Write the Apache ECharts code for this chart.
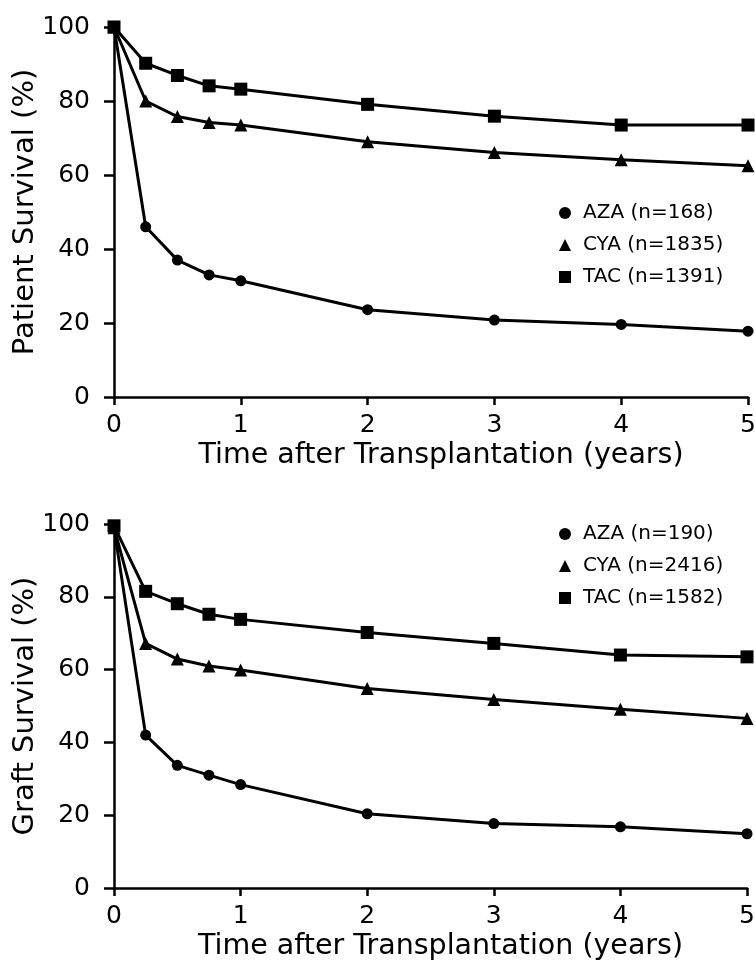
<!DOCTYPE html>
<html>
<head>
<meta charset="utf-8">
<script src="https://cdn.jsdelivr.net/npm/echarts@6/dist/echarts.min.js"></script>
<style>
  html, body { margin: 0; padding: 0; background: #fff; }
  #main { width: 755px; height: 970px; }
</style>
</head>
<body>
<div id="main"></div>
<script>
// time points (years)
var years = [0, 0.25, 0.5, 0.75, 1, 2, 3, 4, 5];

// patient survival (%)
var patientAza = [100, 46, 37, 33, 31.4, 23.6, 20.8, 19.6, 17.8];
var patientCya = [100, 80, 75.8, 74.2, 73.5, 69, 66.1, 64.1, 62.5];
var patientTac = [100, 90.2, 86.9, 84.1, 83.2, 79.1, 75.9, 73.5, 73.5];

// graft survival (%)
var graftAza = [99, 42, 33.7, 31, 28.4, 20.4, 17.7, 16.8, 14.9];
var graftCya = [99, 67.2, 62.9, 61, 59.9, 54.8, 51.8, 49.1, 46.6];
var graftTac = [99.5, 81.5, 78.1, 75.2, 73.8, 70.2, 67.2, 64, 63.5];

var patientNames = ['AZA (n=168)', 'CYA (n=1835)', 'TAC (n=1391)'];
var graftNames = ['AZA (n=190)', 'CYA (n=2416)', 'TAC (n=1582)'];

var font = '"DejaVu Sans", Verdana, sans-serif';

function pairs(vals) {
    var out = [];
    for (var i = 0; i < years.length; i++) {
        out.push([years[i], vals[i]]);
    }
    return out;
}

function makeX(idx) {
    return {
        type: 'value',
        gridIndex: idx,
        min: 0,
        max: 5,
        interval: 1,
        name: 'Time after Transplantation (years)',
        nameLocation: 'middle',
        nameGap: 44,
        nameMoveOverlap: false,
        nameTextStyle: {color: '#000', fontSize: 28.5, fontFamily: font, padding: [0, 0, 0, 20]},
        axisLine: {show: true, lineStyle: {color: '#000', width: 2.5}},
        axisTick: {show: true, length: 8, lineStyle: {color: '#000', width: 2.5}},
        axisLabel: {color: '#000', fontSize: 25, fontFamily: font, margin: 16},
        splitLine: {show: false}
    };
}

function makeY(idx, title) {
    return {
        type: 'value',
        gridIndex: idx,
        min: 0,
        max: 100,
        interval: 20,
        name: title,
        nameLocation: 'middle',
        nameGap: 74,
        nameMoveOverlap: false,
        nameTextStyle: {color: '#000', fontSize: 29, fontFamily: font},
        axisLine: {show: true, lineStyle: {color: '#000', width: 2.5}},
        axisTick: {show: true, length: 10, lineStyle: {color: '#000', width: 2.5}},
        axisLabel: {color: '#000', fontSize: 25, fontFamily: font, margin: 24},
        splitLine: {show: false}
    };
}

function makeSeries(name, vals, symbol, size, idx) {
    return {
        name: name,
        type: 'line',
        xAxisIndex: idx,
        yAxisIndex: idx,
        data: pairs(vals),
        symbol: symbol,
        symbolSize: size,
        showAllSymbol: true,
        clip: false,
        color: '#000',
        lineStyle: {color: '#000', width: 3},
        itemStyle: {color: '#000', borderWidth: 0},
        emphasis: {disabled: true},
        animation: false
    };
}

function makeLegend(names, top) {
    return {
        orient: 'vertical',
        left: 554,
        top: top,
        itemGap: 12,
        itemWidth: 12,
        itemHeight: 12,
        data: [
            {name: names[0], icon: 'circle'},
            {name: names[1], icon: 'triangle'},
            {name: names[2], icon: 'rect'}
        ],
        textStyle: {color: '#000', fontSize: 20, fontFamily: font, padding: [0, 0, 0, 7]},
        selectedMode: false
    };
}

var myChart = echarts.init(document.getElementById('main'));

var option = {
    backgroundColor: '#fff',
    animation: false,
    grid: [
        {left: 114, right: 7, top: 27, height: 370, outerBoundsMode: 'none', containLabel: false},
        {left: 114, right: 8, top: 524, height: 364, outerBoundsMode: 'none', containLabel: false}
    ],
    xAxis: [makeX(0), makeX(1)],
    yAxis: [makeY(0, 'Patient Survival (%)'), makeY(1, 'Graft Survival (%)')],
    legend: [makeLegend(patientNames, 198), makeLegend(graftNames, 519)],
    series: [
        makeSeries(patientNames[0], patientAza, 'circle', 11, 0),
        makeSeries(patientNames[1], patientCya, 'triangle', 13, 0),
        makeSeries(patientNames[2], patientTac, 'rect', 13, 0),
        makeSeries(graftNames[0], graftAza, 'circle', 11, 1),
        makeSeries(graftNames[1], graftCya, 'triangle', 13, 1),
        makeSeries(graftNames[2], graftTac, 'rect', 13, 1)
    ]
};

myChart.setOption(option);
</script>
</body>
</html>
